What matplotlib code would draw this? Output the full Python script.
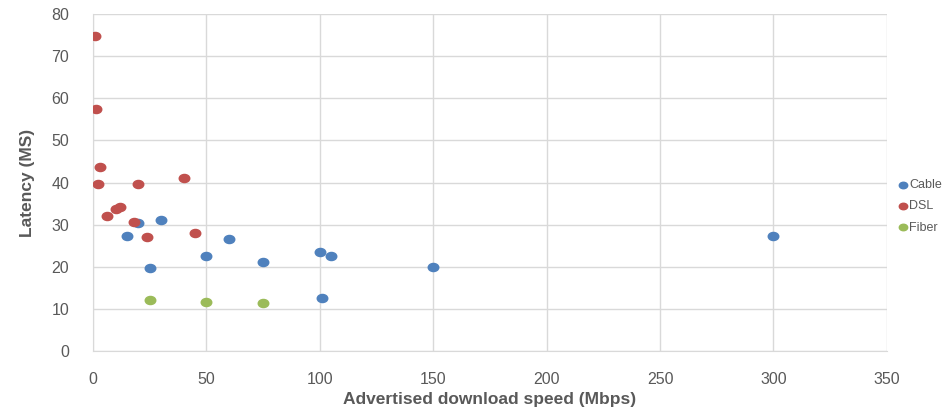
import matplotlib
matplotlib.use('Agg')
import matplotlib.pyplot as plt
from matplotlib.markers import MarkerStyle
from matplotlib.transforms import Affine2D

plt.rcParams['font.family'] = ['Liberation Sans Narrow', 'Liberation Sans', 'DejaVu Sans']

# Advertised download speed (Mbps) vs latency (ms)
cable_x = [20, 30, 15, 25, 50, 60, 75, 100, 105, 101, 150, 300]
cable_y = [30.3, 31.2, 27.2, 19.7, 22.6, 26.7, 21.2, 23.6, 22.6, 12.6, 19.9, 27.3]

dsl_x = [0.9, 1.5, 3, 2, 20, 40, 6, 10, 12, 18, 24, 45]
dsl_y = [74.8, 57.4, 43.7, 39.6, 39.6, 41.0, 32.1, 33.6, 34.3, 30.7, 27.0, 28.0]

fiber_x = [25, 50, 75]
fiber_y = [12.0, 11.6, 11.4]

# points in the original are slightly wider than tall
dot = MarkerStyle('o', transform=Affine2D().scale(1.3, 1.0))

fig = plt.figure(figsize=(9.44, 4.12), dpi=100)
ax = fig.add_axes([0.0985, 0.148, 0.841, 0.818])

ax.scatter(cable_x, cable_y, s=34, marker=dot, color='#4F81BD', label='Cable', zorder=3)
ax.scatter(dsl_x, dsl_y, s=34, marker=dot, color='#C0504D', label='DSL', zorder=3)
ax.scatter(fiber_x, fiber_y, s=34, marker=dot, color='#9BBB59', label='Fiber', zorder=3)

ax.set_xlim(0, 350)
ax.set_ylim(0, 80)
ax.set_xticks(range(0, 351, 50))
ax.set_yticks(range(0, 81, 10))
ax.grid(True, color='#D9D9D9', linewidth=1)
ax.set_axisbelow(True)
for s in ['top', 'right']:
    ax.spines[s].set_visible(False)
for s in ['left', 'bottom']:
    ax.spines[s].set_color('#D9D9D9')
ax.tick_params(length=0, labelsize=11.5, colors='#595959')
ax.tick_params(axis='x', pad=15)
ax.tick_params(axis='y', pad=17)

ax.set_xlabel('Advertised download speed (Mbps)', fontsize=12.5, fontweight='bold', color='#595959', labelpad=4)
ax.set_ylabel('Latency (MS)', fontsize=12.5, fontweight='bold', color='#595959', labelpad=12)

fig.legend(loc='upper left', bbox_to_anchor=(0.945, 0.578), frameon=False,
           fontsize=9, labelcolor='#595959', handletextpad=0.05, markerscale=0.8,
           borderaxespad=0, labelspacing=0.75, handlelength=0.9)

fig.savefig('out.png', dpi=100)
